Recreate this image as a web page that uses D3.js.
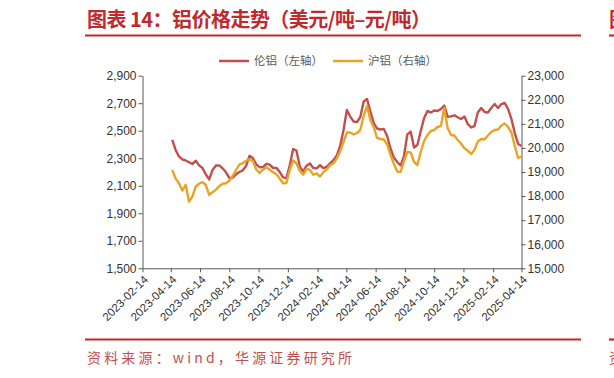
<!DOCTYPE html>
<html>
<head>
<meta charset="utf-8">
<script src="https://cdn.jsdelivr.net/npm/d3@7/dist/d3.min.js"></script>
<style>
  html, body { margin: 0; padding: 0; background: #fff; }
  svg { display: block; }
</style>
</head>
<body>
<svg id="chart" width="614" height="378"></svg>
<script>
// ---------- DATA ----------
const dates = [
  "2023-04-17","2023-04-24","2023-05-01","2023-05-08","2023-05-15","2023-05-22","2023-05-29","2023-06-05","2023-06-12","2023-06-19",
  "2023-06-26","2023-07-03","2023-07-10","2023-07-17","2023-07-24","2023-07-31","2023-08-07","2023-08-14","2023-08-21","2023-08-28",
  "2023-09-04","2023-09-11","2023-09-18","2023-09-25","2023-10-02","2023-10-09","2023-10-16","2023-10-23","2023-10-30","2023-11-06",
  "2023-11-13","2023-11-20","2023-11-27","2023-12-04","2023-12-11","2023-12-18","2023-12-25","2024-01-01","2024-01-08","2024-01-15",
  "2024-01-22","2024-01-29","2024-02-05","2024-02-12","2024-02-19","2024-02-26","2024-03-04","2024-03-11","2024-03-18","2024-03-25",
  "2024-04-01","2024-04-08","2024-04-15","2024-04-22","2024-04-29","2024-05-06","2024-05-13","2024-05-20","2024-05-27","2024-06-03",
  "2024-06-10","2024-06-17","2024-06-24","2024-07-01","2024-07-08","2024-07-15","2024-07-22","2024-07-29","2024-08-05","2024-08-12",
  "2024-08-19","2024-08-26","2024-09-02","2024-09-09","2024-09-16","2024-09-23","2024-09-30","2024-10-07","2024-10-14","2024-10-21",
  "2024-10-28","2024-11-04","2024-11-11","2024-11-18","2024-11-25","2024-12-02","2024-12-09","2024-12-16","2024-12-23","2024-12-30",
  "2025-01-06","2025-01-13","2025-01-20","2025-01-27","2025-02-03","2025-02-10","2025-02-17","2025-02-24","2025-03-03","2025-03-10",
  "2025-03-17","2025-03-24","2025-03-31","2025-04-07","2025-04-14"
];
// LME aluminium, USD/t (left axis)
const lmeValues = [
  2433,2360,2313,2291,2284,2271,2258,2282,2248,2229,
  2182,2146,2215,2247,2248,2227,2198,2157,2158,2183,
  2200,2212,2244,2318,2301,2255,2235,2236,2259,2253,
  2231,2230,2201,2161,2156,2249,2367,2355,2237,2204,
  2246,2262,2229,2227,2249,2228,2238,2262,2286,2321,
  2389,2505,2651,2603,2567,2563,2600,2712,2731,2640,
  2556,2516,2509,2513,2462,2371,2305,2273,2247,2316,
  2473,2494,2378,2396,2498,2593,2643,2633,2647,2643,
  2658,2683,2602,2604,2612,2598,2585,2603,2549,2524,
  2534,2633,2665,2636,2632,2665,2694,2665,2694,2702,
  2658,2585,2483,2404,2389
];
// SHFE aluminium, CNY/t (right axis)
const shfeValues = [
  19083,18730,18534,18227,18468,17766,17982,18397,18510,18580,
  18460,18053,18161,18269,18410,18514,18530,18634,18833,19083,
  19320,19361,19469,19523,19457,19104,18958,19095,19199,19104,
  18987,18904,18730,18526,18543,19083,19477,19353,19041,18888,
  19141,19083,18888,18937,18813,19000,19099,19278,19353,19556,
  19851,20246,20641,20641,20557,20620,20744,21326,21741,21160,
  20848,20412,20371,20350,20142,19706,19332,19020,19000,19457,
  19830,19810,19415,19290,19830,20287,20537,20703,20744,20869,
  20910,21658,20827,20537,20516,20329,20184,19984,19884,19747,
  19914,20267,20371,20350,20516,20661,20744,20765,20931,21014,
  20869,20641,20080,19581,19644
];
const xTickLabels = [
  "2023-02-14","2023-04-14","2023-06-14","2023-08-14","2023-10-14","2023-12-14","2024-02-14",
  "2024-04-14","2024-06-14","2024-08-14","2024-10-14","2024-12-14","2025-02-14","2025-04-14"
];
const leftTicks = [1500,1700,1900,2100,2300,2500,2700,2900];
const rightTicks = [15000,16000,17000,18000,19000,20000,21000,22000,23000];
const seriesNames = ["伦铝（左轴）","沪铝（右轴）"];
const titleText = "图表 14：铝价格走势（美元/吨–元/吨）";
const sourceText = "资料来源：wind，华源证券研究所";

// ---------- LAYOUT ----------
const svg = d3.select("#chart");
const W = 614, H = 378;
const plot = { left: 142.5, right: 521.5, top: 75.7, bottom: 268.3 };
const RED = "#C0504D", GOLD = "#E8A427", BRAND = "#BE2A2E";
const parse = d3.timeParse("%Y-%m-%d");

svg.append("rect").attr("width", W).attr("height", H).attr("fill", "#fff");

const x = d3.scaleTime()
  .domain([parse(xTickLabels[0]), parse(xTickLabels[xTickLabels.length - 1])])
  .range([plot.left, plot.right]);
const yL = d3.scaleLinear().domain([1500, 2900]).range([plot.bottom, plot.top]);
const yR = d3.scaleLinear().domain([15000, 23000]).range([plot.bottom, plot.top]);

// Title
svg.append("text")
  .attr("x", 87).attr("y", 26.5)
  .attr("font-family", "'Noto Sans CJK SC', sans-serif")
  .attr("font-weight", "bold").attr("font-size", 20)
  .attr("fill", BRAND)
  .attr("textLength", 344).attr("lengthAdjust", "spacing")
  .text(titleText);
svg.append("line").attr("x1", 85).attr("x2", 581).attr("y1", 35.5).attr("y2", 35.5)
  .attr("stroke", BRAND).attr("stroke-width", 2.2);
// neighbour fragments at right edge
svg.append("text").attr("x", 609).attr("y", 26.5)
  .attr("font-family", "'Noto Sans CJK SC', sans-serif").attr("font-weight", "bold")
  .attr("font-size", 20).attr("fill", BRAND).text("图");
svg.append("line").attr("x1", 609).attr("x2", 614).attr("y1", 35.5).attr("y2", 35.5)
  .attr("stroke", BRAND).attr("stroke-width", 2.2);

// Legend
const legend = svg.append("g").attr("font-family", "'Noto Sans CJK SC', sans-serif")
  .attr("font-size", 11.5).attr("fill", "#595959");
const legendItems = [
  { name: seriesNames[0], color: RED, x: 219 },
  { name: seriesNames[1], color: GOLD, x: 333 }
];
legendItems.forEach(it => {
  legend.append("line").attr("x1", it.x).attr("x2", it.x + 30).attr("y1", 61).attr("y2", 61)
    .attr("stroke", it.color).attr("stroke-width", 2.5);
  legend.append("text").attr("x", it.x + 35).attr("y", 65).text(it.name);
});

// Axes
const fmt = d3.format(",");
const axisFont = "'Liberation Sans', Arial, sans-serif";
const gL = svg.append("g").attr("transform", `translate(${plot.left},0)`)
  .call(d3.axisLeft(yL).tickValues(leftTicks).tickFormat(fmt).tickSize(4).tickSizeOuter(0).tickPadding(2));
const gR = svg.append("g").attr("transform", `translate(${plot.right},0)`)
  .call(d3.axisRight(yR).tickValues(rightTicks).tickFormat(fmt).tickSize(4).tickSizeOuter(0).tickPadding(2));
const gB = svg.append("g").attr("transform", `translate(0,${plot.bottom})`)
  .call(d3.axisBottom(x).tickValues(xTickLabels.map(parse)).tickFormat(d3.timeFormat("%Y-%m-%d"))
    .tickSize(4).tickSizeOuter(0));

[gL, gR, gB].forEach(g => {
  g.select(".domain").attr("stroke", "#595959").attr("stroke-width", 1);
  g.selectAll(".tick line").attr("stroke", "#595959");
  g.selectAll("text").attr("font-family", axisFont).attr("font-size", 12).attr("fill", "#333");
});
gB.selectAll(".tick text")
  .attr("font-size", 11.5)
  .attr("text-anchor", "end")
  .attr("x", 0).attr("y", 0).attr("dy", "0.35em")
  .attr("transform", "translate(3,9) rotate(-45)");

// Lines
const data = dates.map((d, i) => ({ date: parse(d), lme: lmeValues[i], shfe: shfeValues[i] }));
svg.append("path").datum(data)
  .attr("fill", "none").attr("stroke", RED).attr("stroke-width", 2.4).attr("stroke-linejoin", "round")
  .attr("d", d3.line().x(d => x(d.date)).y(d => yL(d.lme)));
svg.append("path").datum(data)
  .attr("fill", "none").attr("stroke", GOLD).attr("stroke-width", 2.4).attr("stroke-linejoin", "round")
  .attr("d", d3.line().x(d => x(d.date)).y(d => yR(d.shfe)));

// Source
svg.append("line").attr("x1", 85).attr("x2", 581).attr("y1", 339.5).attr("y2", 339.5)
  .attr("stroke", BRAND).attr("stroke-width", 2.2);
svg.append("line").attr("x1", 609).attr("x2", 614).attr("y1", 339.5).attr("y2", 339.5)
  .attr("stroke", BRAND).attr("stroke-width", 2.2);
svg.append("text").attr("x", 87).attr("y", 363)
  .attr("font-family", "'Noto Sans CJK SC', sans-serif").attr("font-size", 14)
  .attr("fill", RED)
  .attr("textLength", 265).attr("lengthAdjust", "spacing")
  .text(sourceText);
svg.append("text").attr("x", 609).attr("y", 363)
  .attr("font-family", "'Noto Sans CJK SC', sans-serif").attr("font-size", 14)
  .attr("fill", RED).text("资");
</script>
</body>
</html>
